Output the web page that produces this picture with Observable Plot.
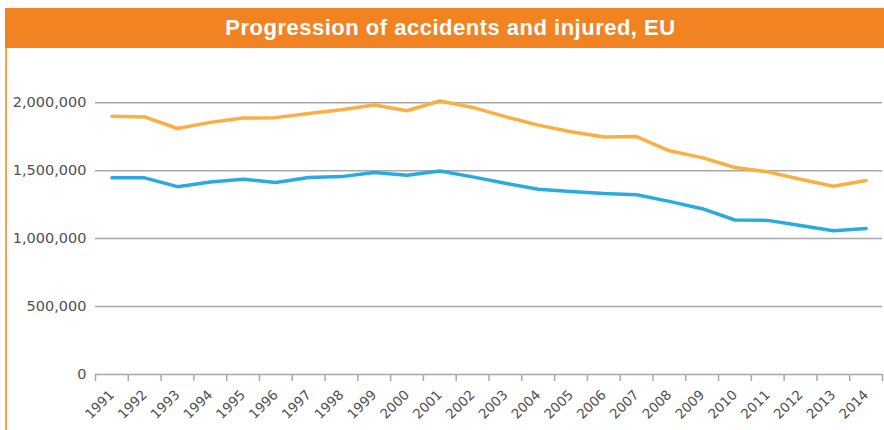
<!DOCTYPE html>
<html>
<head>
<meta charset="utf-8">
<script src="https://cdn.jsdelivr.net/npm/d3@7"></script>
<script src="https://cdn.jsdelivr.net/npm/@observablehq/plot@0.6"></script>
<style>
  html, body { margin: 0; padding: 0; background: #fff; }
  #wrap { position: relative; width: 884px; height: 430px; overflow: hidden; font-family: "Liberation Sans", Arial, sans-serif; }
  #title { position: absolute; left: 5px; top: 8px; width: 879px; height: 40px; background: #f28322; color: #fff;
           font-weight: bold; font-size: 22px; letter-spacing: 0.5px; line-height: 40px; text-align: center; text-indent: 12px; }
  #edge { position: absolute; left: 5px; top: 48px; width: 2px; height: 382px; background: #f8a24a; }
  #chart { position: absolute; left: 0; top: 48px; }
</style>
</head>
<body>
<div id="wrap">
  <div id="title">Progression of accidents and injured, EU</div>
  <div id="edge"></div>
  <div id="chart"></div>
</div>
<script>
const years = [1991,1992,1993,1994,1995,1996,1997,1998,1999,2000,2001,2002,2003,2004,2005,2006,2007,2008,2009,2010,2011,2012,2013,2014];
const injured = [1900000,1895000,1810000,1855000,1887000,1890000,1920000,1948000,1983000,1941000,2012000,1965000,1897000,1835000,1786000,1747000,1751000,1646000,1596000,1523000,1491000,1437000,1385000,1427000];
const accidents = [1447000,1447000,1382000,1417000,1437000,1412000,1449000,1456000,1486000,1466000,1498000,1454000,1407000,1363000,1346000,1331000,1323000,1274000,1220000,1137000,1134000,1097000,1058000,1075000];
const yTicks = [0, 500000, 1000000, 1500000, 2000000];

const boundaries = years.map(y => y - 0.5).concat([years[years.length - 1] + 0.5]);
const rows = years.map((year, i) => ({year, injured: injured[i], accidents: accidents[i]}));

const chart = Plot.plot({
  width: 884,
  height: 382,
  marginLeft: 95,
  marginRight: 2,
  marginTop: 27,
  marginBottom: 56,
  style: { fontFamily: "DejaVu Sans, sans-serif", color: "#505050", background: "transparent", overflow: "visible" },
  x: { type: "linear", domain: [boundaries[0], boundaries[boundaries.length - 1]] },
  y: { domain: [0, 2200000] },
  marks: [
    Plot.gridY(yTicks, { stroke: "#a8a8a8", strokeOpacity: 1, strokeWidth: 1.5 }),
    Plot.axisY({ ticks: yTicks, tickSize: 0, tickPadding: 9, tickFormat: d3.format(","), fontSize: 14.5, label: null }),
    Plot.axisX({ ticks: boundaries, tickSize: 7, tickFormat: () => "", stroke: "#a8a8a8", strokeWidth: 1.5, label: null }),
    Plot.axisX({ ticks: years, tickSize: 0, tickPadding: 18, tickRotate: -45, tickFormat: d => String(d), fontSize: 13.5, label: null }),
    Plot.lineY(rows, { x: "year", y: "injured", stroke: "#fbae42", strokeWidth: 3.5 }),
    Plot.lineY(rows, { x: "year", y: "accidents", stroke: "#29abe2", strokeWidth: 3.5 })
  ]
});
document.getElementById("chart").appendChild(chart);
</script>
</body>
</html>
